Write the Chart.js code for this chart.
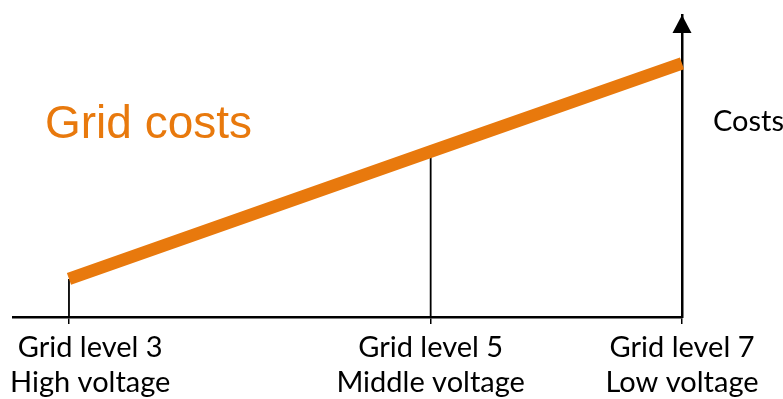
<!DOCTYPE html>
<html>
<head>
<meta charset="utf-8">
<script src="https://cdn.jsdelivr.net/npm/chart.js@4/dist/chart.umd.min.js"></script>
<style>
  html, body { margin: 0; padding: 0; background: #ffffff; }
  #wrap { width: 783px; height: 399px; }
</style>
</head>
<body>
<div id="wrap"><canvas id="c" width="783" height="399"></canvas></div>
<script>
// Grid levels along the horizontal axis and their voltage class
const levelNames = ['Grid level 3', 'Grid level 5', 'Grid level 7'];
const voltageNames = ['High voltage', 'Middle voltage', 'Low voltage'];
// Position of each grid level along the axis (0 = level 3, 100 = level 7)
const levelPos = [0, 59, 100];
// Relative grid costs per level (0 = axis, 100 = arrow tip)
const gridCosts = [12.6, 54.8, 84.0];
const seriesTitle = 'Grid costs';
const axisTitle = 'Costs';

const ORANGE = '#E8790D';
const LABEL_FONT = '29px Lato, "Noto Sans", sans-serif';

// Thin drop lines from the axis up to the cost line (levels 3 and 5)
const dropLines = [0, 1].map(i => ({
  data: [{ x: levelPos[i], y: 0 }, { x: levelPos[i], y: gridCosts[i] }],
  borderColor: '#000000',
  borderWidth: 1.8,
  pointRadius: 0,
  order: 1,
  clip: false
}));

const decorations = {
  id: 'decorations',
  afterDraw(chart) {
    const { ctx, chartArea } = chart;
    const xs = chart.scales.x;
    ctx.save();

    // arrowhead on the cost axis
    const ax = chartArea.right;
    ctx.fillStyle = '#000000';
    ctx.beginPath();
    ctx.moveTo(ax, chartArea.top);
    ctx.lineTo(ax - 9.5, chartArea.top + 18);
    ctx.lineTo(ax + 9.5, chartArea.top + 18);
    ctx.closePath();
    ctx.fill();

    // series title inside the plot
    ctx.fillStyle = ORANGE;
    ctx.font = '46px "Liberation Sans", Arial, sans-serif';
    ctx.textAlign = 'left';
    ctx.textBaseline = 'alphabetic';
    ctx.fillText(seriesTitle, chartArea.left + 32, chartArea.top + 123);

    // axis title next to the arrow
    ctx.fillStyle = '#000000';
    ctx.font = LABEL_FONT;
    ctx.fillText(axisTitle, chartArea.right + 31, chartArea.top + 116);

    // two-line labels under each grid level tick, kept inside the canvas
    ctx.textAlign = 'center';
    levelPos.forEach((v, i) => {
      const px = xs.getPixelForValue(v);
      const w = Math.max(ctx.measureText(levelNames[i]).width, ctx.measureText(voltageNames[i]).width);
      let cx = Math.max(px, 10 + w / 2);
      cx = Math.min(cx, chart.width - 10 - w / 2);
      ctx.fillText(levelNames[i], cx, chartArea.bottom + 40);
      ctx.fillText(voltageNames[i], cx, chartArea.bottom + 75);
    });
    ctx.restore();
  }
};

new Chart(document.getElementById('c'), {
  type: 'line',
  data: {
    datasets: [
      {
        data: levelPos.map((x, i) => ({ x, y: gridCosts[i] })),
        borderColor: ORANGE,
        borderWidth: 12.5,
        borderCapStyle: 'butt',
        borderJoinStyle: 'miter',
        pointRadius: 0,
        tension: 0,
        order: 0,
        clip: false
      },
      ...dropLines
    ]
  },
  options: {
    responsive: false,
    devicePixelRatio: 1,
    animation: false,
    events: [],
    layout: { padding: { left: 13, right: 101, top: 15, bottom: 75 } },
    plugins: { legend: { display: false }, tooltip: { enabled: false }, title: { display: false } },
    scales: {
      x: {
        type: 'linear',
        position: 'bottom',
        min: -9.13,
        max: 100,
        afterBuildTicks: s => { s.ticks = levelPos.map(v => ({ value: v })); },
        grid: { drawOnChartArea: false, drawTicks: true, tickLength: 7, color: '#000000', lineWidth: 1.5 },
        border: { display: true, color: '#000000', width: 2.5 },
        ticks: { display: false }
      },
      y: {
        type: 'linear',
        position: 'right',
        min: 0,
        max: 100,
        z: 1,
        grid: { display: false, drawTicks: false },
        border: { display: true, color: '#000000', width: 2.5 },
        ticks: { display: false }
      }
    }
  },
  plugins: [decorations]
});
</script>
</body>
</html>
